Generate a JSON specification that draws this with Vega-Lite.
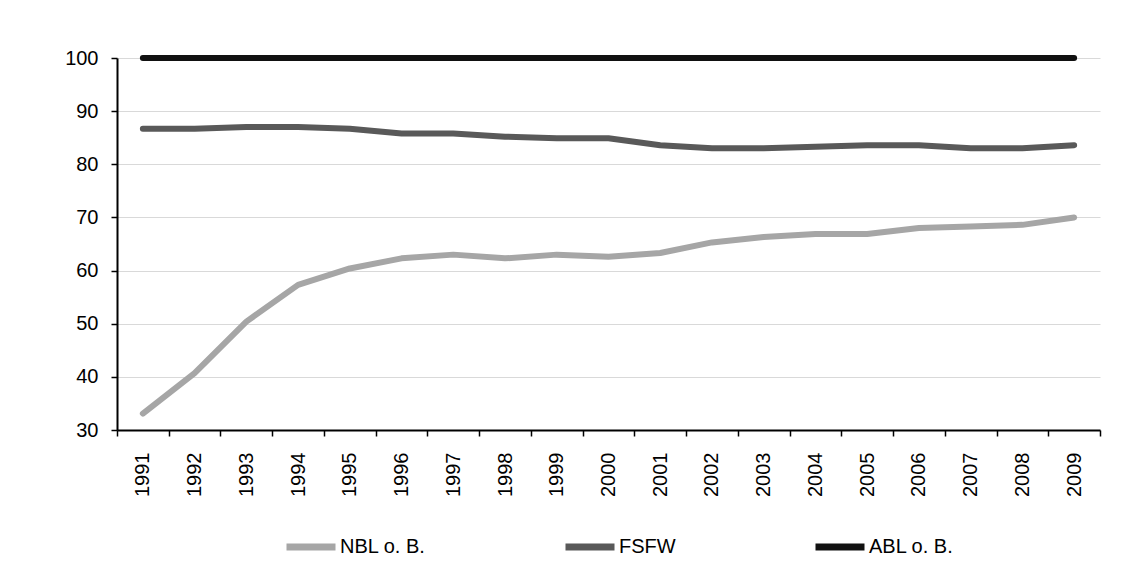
{
  "$schema": "https://vega.github.io/schema/vega-lite/v6.json",
  "width": 983,
  "height": 372,
  "autosize": {"type": "none"},
  "padding": {"left": 117, "top": 58, "right": 23, "bottom": 143},
  "background": "white",
  "config": {
    "view": {"stroke": null},
    "font": "Liberation Sans",
    "axis": {"labelFont": "Liberation Sans", "labelColor": "black", "labelFontSize": 20}
  },
  "datasets": {
    "rows": [
      {"year": "1991", "series": "NBL o. B.", "value": 33.1},
      {"year": "1992", "series": "NBL o. B.", "value": 40.7},
      {"year": "1993", "series": "NBL o. B.", "value": 50.4},
      {"year": "1994", "series": "NBL o. B.", "value": 57.3},
      {"year": "1995", "series": "NBL o. B.", "value": 60.4},
      {"year": "1996", "series": "NBL o. B.", "value": 62.3},
      {"year": "1997", "series": "NBL o. B.", "value": 63.0},
      {"year": "1998", "series": "NBL o. B.", "value": 62.3},
      {"year": "1999", "series": "NBL o. B.", "value": 63.0},
      {"year": "2000", "series": "NBL o. B.", "value": 62.6},
      {"year": "2001", "series": "NBL o. B.", "value": 63.3},
      {"year": "2002", "series": "NBL o. B.", "value": 65.3},
      {"year": "2003", "series": "NBL o. B.", "value": 66.3},
      {"year": "2004", "series": "NBL o. B.", "value": 66.9},
      {"year": "2005", "series": "NBL o. B.", "value": 66.9},
      {"year": "2006", "series": "NBL o. B.", "value": 68.0},
      {"year": "2007", "series": "NBL o. B.", "value": 68.3},
      {"year": "2008", "series": "NBL o. B.", "value": 68.6},
      {"year": "2009", "series": "NBL o. B.", "value": 70.0},
      {"year": "1991", "series": "FSFW", "value": 86.7},
      {"year": "1992", "series": "FSFW", "value": 86.7},
      {"year": "1993", "series": "FSFW", "value": 87.0},
      {"year": "1994", "series": "FSFW", "value": 87.0},
      {"year": "1995", "series": "FSFW", "value": 86.7},
      {"year": "1996", "series": "FSFW", "value": 85.8},
      {"year": "1997", "series": "FSFW", "value": 85.8},
      {"year": "1998", "series": "FSFW", "value": 85.2},
      {"year": "1999", "series": "FSFW", "value": 84.9},
      {"year": "2000", "series": "FSFW", "value": 84.9},
      {"year": "2001", "series": "FSFW", "value": 83.6},
      {"year": "2002", "series": "FSFW", "value": 83.0},
      {"year": "2003", "series": "FSFW", "value": 83.0},
      {"year": "2004", "series": "FSFW", "value": 83.3},
      {"year": "2005", "series": "FSFW", "value": 83.6},
      {"year": "2006", "series": "FSFW", "value": 83.6},
      {"year": "2007", "series": "FSFW", "value": 83.0},
      {"year": "2008", "series": "FSFW", "value": 83.0},
      {"year": "2009", "series": "FSFW", "value": 83.6},
      {"year": "1991", "series": "ABL o. B.", "value": 100},
      {"year": "1992", "series": "ABL o. B.", "value": 100},
      {"year": "1993", "series": "ABL o. B.", "value": 100},
      {"year": "1994", "series": "ABL o. B.", "value": 100},
      {"year": "1995", "series": "ABL o. B.", "value": 100},
      {"year": "1996", "series": "ABL o. B.", "value": 100},
      {"year": "1997", "series": "ABL o. B.", "value": 100},
      {"year": "1998", "series": "ABL o. B.", "value": 100},
      {"year": "1999", "series": "ABL o. B.", "value": 100},
      {"year": "2000", "series": "ABL o. B.", "value": 100},
      {"year": "2001", "series": "ABL o. B.", "value": 100},
      {"year": "2002", "series": "ABL o. B.", "value": 100},
      {"year": "2003", "series": "ABL o. B.", "value": 100},
      {"year": "2004", "series": "ABL o. B.", "value": 100},
      {"year": "2005", "series": "ABL o. B.", "value": 100},
      {"year": "2006", "series": "ABL o. B.", "value": 100},
      {"year": "2007", "series": "ABL o. B.", "value": 100},
      {"year": "2008", "series": "ABL o. B.", "value": 100},
      {"year": "2009", "series": "ABL o. B.", "value": 100}
    ]
  },
  "data": {"name": "rows"},
  "mark": {"type": "line", "strokeWidth": 6, "strokeCap": "round", "strokeJoin": "round", "clip": false},
  "encoding": {
    "x": {
      "field": "year",
      "type": "ordinal",
      "bandPosition": 0.5,
      "scale": {"type": "band", "paddingInner": 0, "paddingOuter": 0},
      "axis": {
        "title": null,
        "labelAngle": 270,
        "tickBand": "extent",
        "grid": false,
        "domainColor": "black",
        "domainWidth": 2,
        "tickColor": "black",
        "tickWidth": 1.5,
        "tickSize": 6,
        "labelPadding": 16,
        "labelFontSize": 20
      }
    },
    "y": {
      "field": "value",
      "type": "quantitative",
      "scale": {"domain": [30, 100], "nice": false, "zero": false},
      "axis": {
        "title": null,
        "values": [30, 40, 50, 60, 70, 80, 90, 100],
        "grid": true,
        "gridColor": "#d9d9d9",
        "gridWidth": 1.2,
        "domainColor": "black",
        "domainWidth": 2,
        "tickColor": "black",
        "tickWidth": 1.5,
        "tickSize": 6,
        "labelPadding": 13,
        "labelFontSize": 20
      }
    },
    "color": {
      "field": "series",
      "type": "nominal",
      "sort": ["NBL o. B.", "FSFW", "ABL o. B."],
      "scale": {"domain": ["NBL o. B.", "FSFW", "ABL o. B."], "range": ["#a6a6a6", "#595959", "#111111"]},
      "legend": {
        "title": null,
        "orient": "none",
        "legendX": 166,
        "legendY": 461,
        "direction": "horizontal",
        "columns": 3,
        "columnPadding": 125,
        "symbolType": "stroke",
        "symbolSize": 2401,
        "symbolStrokeWidth": 7,
        "labelOffset": 1,
        "labelFontSize": 20,
        "labelFont": "Liberation Sans",
        "labelColor": "black",
        "padding": 0
      }
    }
  }
}
